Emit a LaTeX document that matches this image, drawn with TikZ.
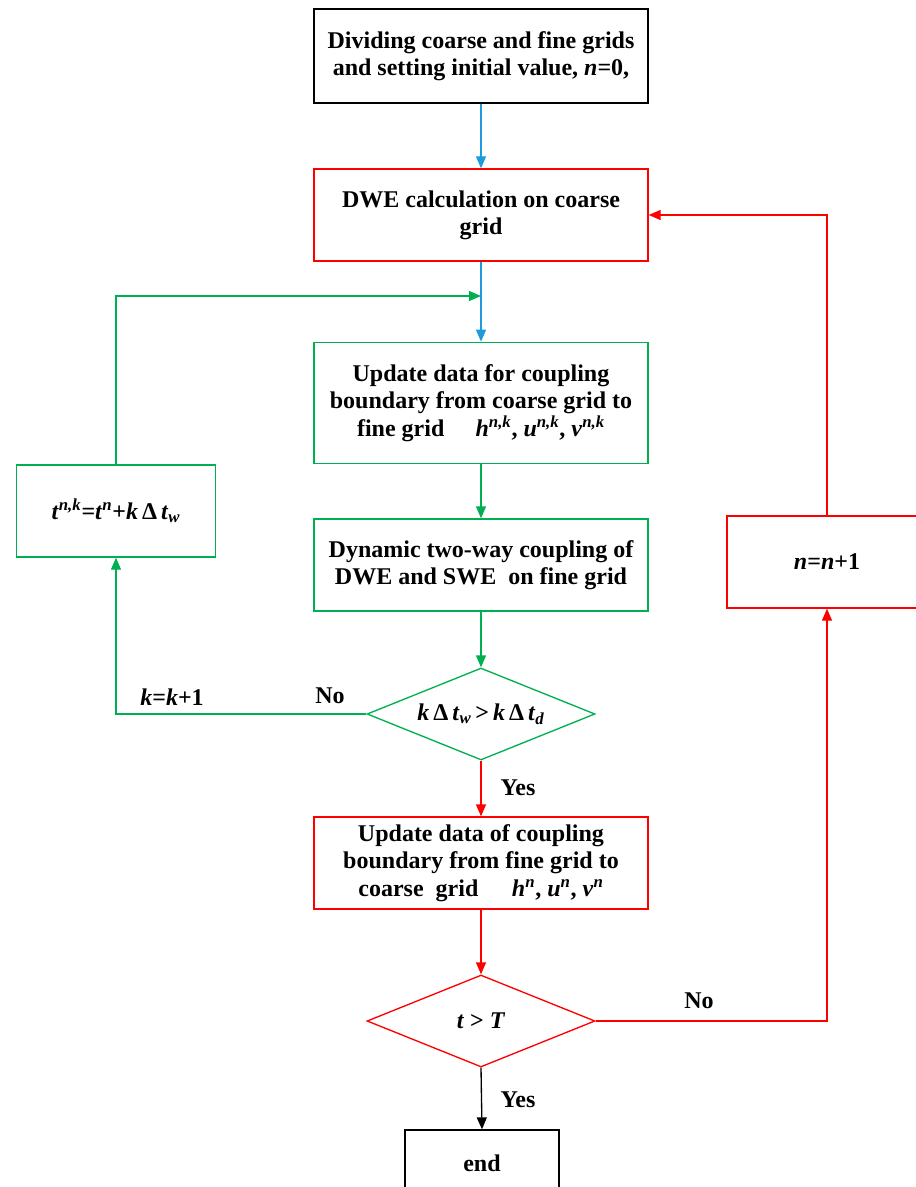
\documentclass[tikz,border=0pt]{standalone}
\usepackage{fontspec}
\setmainfont{Liberation Serif}
\definecolor{flowblue}{RGB}{30, 155, 220}
\definecolor{flowgreen}{RGB}{0, 176, 80}
\definecolor{flowred}{RGB}{255, 0, 0}
\usetikzlibrary{shapes.geometric, arrows.meta, positioning, calc}
\newcommand{\vb}[1]{\textit{#1}}

\begin{document}
\begin{tikzpicture}[x=0.75pt, y=-0.75pt,
    every node/.style={font=\bfseries\fontsize{18}{20.5}\selectfont},
    flowbox/.style={draw, line width=1pt, minimum width=250.5pt, minimum height=69pt, align=center, inner sep=2pt},
    smallbox/.style={draw, line width=1pt, minimum width=149pt, minimum height=69pt, align=center},
    decision/.style={draw, diamond, line width=1pt, minimum width=171pt, minimum height=69pt, aspect=2.5, inner sep=0pt},
    conn/.style={line width=1pt, -{Triangle[length=9pt, width=7.5pt]}}]
  \useasboundingbox (0,0) rectangle (916,1187);
  \clip (0,0) rectangle (916,1187);

  % Start
  \node[flowbox, draw=black, minimum height=70.5pt] (init) at (481,56) {Dividing coarse and fine grids\\and setting initial value, \vb{n}=0,};

  % Coarse grid
  \node[flowbox, draw=flowred] (dwe) at (481,215) {DWE calculation on coarse\\grid};

  % Coarse to fine
  \node[flowbox, draw=flowgreen, minimum height=91pt] (upfine) at (481,403) {Update data for coupling\\boundary from coarse grid to\\fine grid\hspace{1.3em}\vb{h}\textsuperscript{\vb{n,k}}, \vb{u}\textsuperscript{\vb{n,k}}, \vb{v}\textsuperscript{\vb{n,k}}};

  \node[flowbox, draw=flowgreen] (couple) at (481,565) {Dynamic two-way coupling of\\DWE and SWE\ \ on fine grid};

  \node[decision, draw=flowgreen] (chkk) at (481,714) {\vb{k}\,Δ\,\vb{t}\textsubscript{\vb{w}}\,>\,\vb{k}\,Δ\,\vb{t}\textsubscript{\vb{d}}};

  \node[smallbox, draw=flowgreen] (tnk) at (116,511) {\vb{t}\textsuperscript{\vb{n,k}}=\vb{t}\textsuperscript{\vb{n}}+\vb{k}\,Δ\,\vb{t}\textsubscript{\vb{w}}};

  % Fine to coarse
  \node[flowbox, draw=flowred] (upcoarse) at (481,863) {Update data of coupling\\boundary from fine grid to\\coarse\ \ grid\hspace{1.4em}\vb{h}\textsuperscript{\vb{n}}, \vb{u}\textsuperscript{\vb{n}}, \vb{v}\textsuperscript{\vb{n}}};

  \node[decision, draw=flowred] (chkt) at (481,1021) {\vb{t} > \vb{T}};

  \node[smallbox, draw=flowred, minimum width=150pt] (nstep) at (827,562) {\vb{n}=\vb{n}+1};

  % End
  \node[smallbox, draw=black, minimum width=115.5pt, minimum height=49.5pt] (finish) at (482,1163) {end};

  % Labels
  \node (nok) at (330,696) {No};
  \node (kinc) at (172,697) {\vb{k}=\vb{k}+1};
  \node (yesk) at (518,788) {Yes};
  \node (not) at (699,1001) {No};
  \node (yest) at (518,1100) {Yes};

  \coordinate (join) at (481,296);

  % Connectors
  \draw[conn, flowblue] (init) -- (dwe);
  \draw[conn, flowblue] (dwe) -- (upfine);
  \draw[conn, flowgreen] (upfine) -- (couple);
  \draw[conn, flowgreen] (couple) -- (chkk);
  \draw[conn, flowgreen] (chkk.west) -| (tnk.south);
  \draw[conn, flowgreen] (tnk.north) |- (join);
  \draw[conn, flowred] (chkk) -- (upcoarse);
  \draw[conn, flowred] (upcoarse) -- (chkt);
  \draw[conn, flowred] (chkt.east) -| (nstep.south);
  \draw[conn, flowred] (nstep.north) |- (dwe.east);
  \draw[conn, black] (chkt.south) -- (finish.north);
\end{tikzpicture}
\end{document}
